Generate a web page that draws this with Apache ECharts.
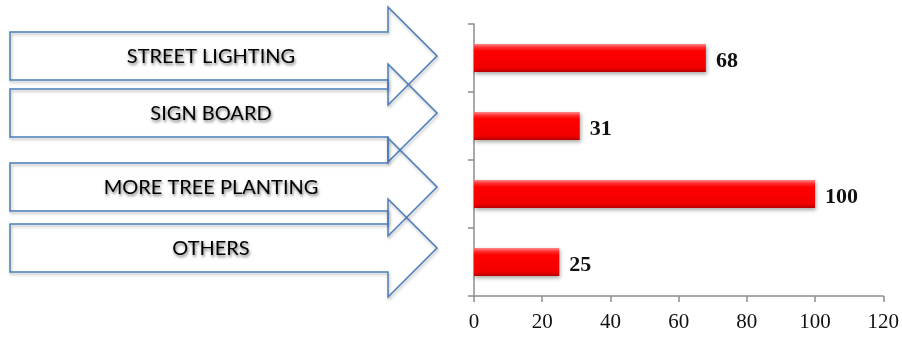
<!DOCTYPE html>
<html>
<head>
<meta charset="utf-8">
<script src="https://cdn.jsdelivr.net/npm/echarts@6/dist/echarts.min.js"></script>
<style>
html,body{margin:0;padding:0;background:#fff;}
#chart{width:902px;height:338px;}
</style>
</head>
<body>
<div id="chart"></div>
<script>
const categories = ['STREET LIGHTING', 'SIGN BOARD', 'MORE TREE PLANTING', 'OTHERS'];
const values = [68, 31, 100, 25];
const xTicks = [0, 20, 40, 60, 80, 100, 120];

const chart = echarts.init(document.getElementById('chart'), null, {renderer: 'canvas'});

// Decorative block arrows carrying the category names
const arrowCenters = [56, 113, 187, 248];
const arrowLeft = 10, headBase = 388, tipX = 437, bodyHalf = 24, headHalf = 49;
const textX = 211;
const arrowColor = '#4a7ebb';

const graphics = [];
categories.forEach(function (name, i) {
  const c = arrowCenters[i];
  graphics.push({
    type: 'polygon',
    z: 10 + i,
    shape: {
      points: [
        [arrowLeft, c - bodyHalf], [headBase, c - bodyHalf], [headBase, c - headHalf],
        [tipX, c], [headBase, c + headHalf], [headBase, c + bodyHalf], [arrowLeft, c + bodyHalf]
      ]
    },
    style: {
      fill: 'transparent',
      stroke: arrowColor,
      lineWidth: 1.5,
      shadowBlur: 3,
      shadowOffsetX: 1,
      shadowOffsetY: 2,
      shadowColor: 'rgba(0,0,0,0.3)'
    }
  });
  graphics.push({
    type: 'text',
    z: 30,
    x: textX,
    y: c + 1,
    style: {
      text: name,
      fill: '#000',
      font: '20px Lato',
      textAlign: 'center',
      textVerticalAlign: 'middle',
      textShadowColor: 'rgba(0,0,0,0.55)',
      textShadowBlur: 3,
      textShadowOffsetX: 1,
      textShadowOffsetY: 2
    }
  });
});

const option = {
  backgroundColor: '#fff',
  animation: false,
  grid: {left: 474, top: 24, right: 17, bottom: 42, containLabel: false},
  xAxis: {
    type: 'value',
    min: xTicks[0],
    max: xTicks[xTicks.length - 1],
    interval: xTicks[1] - xTicks[0],
    splitLine: {show: false},
    axisLine: {show: true, lineStyle: {color: '#8c8c8c', width: 1.5}},
    axisTick: {show: true, length: 6, lineStyle: {color: '#8c8c8c', width: 1.5}},
    axisLabel: {
      margin: 16,
      color: '#111',
      fontFamily: 'Liberation Serif',
      fontSize: 21
    }
  },
  yAxis: {
    type: 'category',
    inverse: true,
    data: categories,
    axisLine: {show: true, lineStyle: {color: '#8c8c8c', width: 1.5}},
    axisTick: {show: true, length: 6, lineStyle: {color: '#8c8c8c', width: 1.5}},
    axisLabel: {show: false},
    splitLine: {show: false}
  },
  series: [{
    type: 'bar',
    data: values,
    barWidth: 28,
    itemStyle: {
      color: new echarts.graphic.LinearGradient(0, 0, 0, 1, [
        {offset: 0, color: '#ff8a8a'},
        {offset: 0.12, color: '#ff3030'},
        {offset: 0.25, color: '#ff0000'},
        {offset: 0.85, color: '#f20000'},
        {offset: 1, color: '#b80000'}
      ]),
      shadowColor: 'rgba(0,0,0,0.35)',
      shadowBlur: 4,
      shadowOffsetY: 2,
      shadowOffsetX: 1
    },
    label: {
      show: true,
      position: 'right',
      distance: 10,
      offset: [0, 3],
      color: '#111',
      fontFamily: 'Liberation Serif',
      fontWeight: 'bold',
      fontSize: 22
    }
  }],
  graphic: graphics
};
chart.setOption(option);
</script>
</body>
</html>
